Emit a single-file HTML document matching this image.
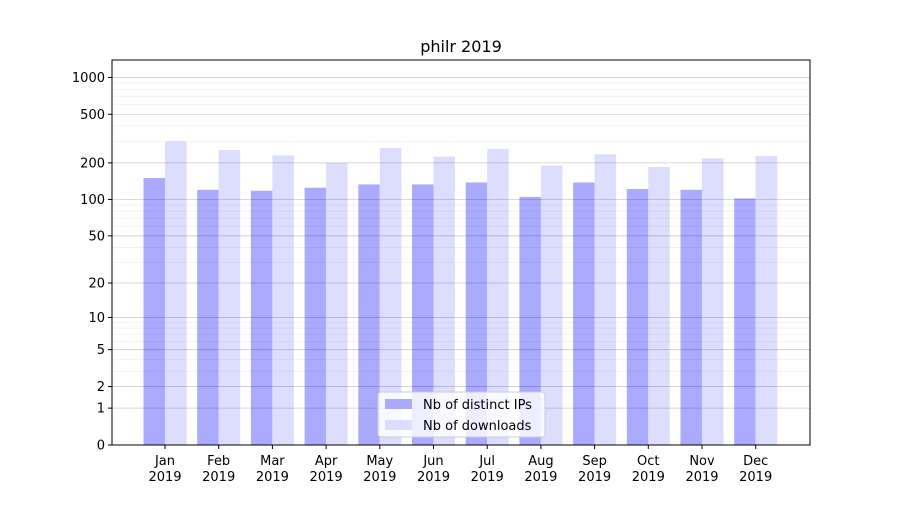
<!DOCTYPE html>
<html><head><meta charset="utf-8"><style>
body{margin:0;background:#fff;font-family:"Liberation Sans","DejaVu Sans",sans-serif;}
svg text{font-family:"DejaVu Sans","Liberation Sans",sans-serif;}
</style></head><body>
<svg id="c" width="900" height="500"></svg>
<script>
const months=["Jan","Feb","Mar","Apr","May","Jun","Jul","Aug","Sep","Oct","Nov","Dec"];
const ips=[150,120,118,125,133,133,138,105,138,122,120,102];
const downloads=[300,255,230,200,265,225,260,190,235,185,218,228];
const yTicks=[0,1,2,5,10,20,50,100,200,500,1000];
const minorTicks=[3,4,6,7,8,9,30,40,60,70,80,90,300,400,600,700,800,900];
const NS="http://www.w3.org/2000/svg";
const svg=document.getElementById('c');
const L=112,R=810,T=60,B=445;
const k=122.5;
function y(v){return B-Math.log10(v+1)*k;}
const step=53.7,x0=165;
function xc(i){return x0+i*step;}
function el(t,a,p){const e=document.createElementNS(NS,t);for(const q in a)e.setAttribute(q,a[q]);(p||svg).appendChild(e);return e;}
const bw=21.5;
months.forEach((m,i)=>{
 const b1=el('rect',{x:xc(i)-bw,y:y(ips[i]),width:bw,height:B-y(ips[i]),fill:'#aaaaff'});
 
 
 const b2=el('rect',{x:xc(i),y:y(downloads[i]),width:bw,height:B-y(downloads[i]),fill:'#ddddff'});
 
 
 const tk=el('line',{x1:xc(i),x2:xc(i),y1:B,y2:B+4,stroke:'#000'});
 
 
 const t=el('text',{x:xc(i),y:B+20,'text-anchor':'middle','font-size':13});
 
 
 const s1=el('tspan',{x:xc(i)},t);s1.textContent=m;
 const s2=el('tspan',{x:xc(i),dy:16},t);s2.textContent='2019';
});
minorTicks.forEach(v=>{const l=el('line',{x1:L,x2:R,y1:y(v),y2:y(v),stroke:'#000','stroke-opacity':0.06,'stroke-width':0.8});

});
yTicks.forEach(v=>{const l=el('line',{x1:L,x2:R,y1:y(v),y2:y(v),stroke:'#000','stroke-opacity':0.2,'stroke-width':0.8});


const tk=el('line',{x1:L-4,x2:L,y1:y(v),y2:y(v),stroke:'#000'});


const t=el('text',{x:L-7,y:y(v)+4.5,'text-anchor':'end','font-size':13});t.textContent=v;

});
const fr=el('rect',{x:L,y:T,width:R-L,height:B-T,fill:'none',stroke:'#000','stroke-width':1});


const ti=el('text',{x:(L+R)/2,y:52,'text-anchor':'middle','font-size':16});ti.textContent='philr 2019';


const lg=el('g',{});


el('rect',{x:378,y:392,width:167,height:45,rx:3,fill:'#fff','fill-opacity':0.8,stroke:'#cccccc'},lg);
el('rect',{x:385,y:399,width:27,height:10,fill:'#aaaaff'},lg);
el('rect',{x:385,y:420,width:27,height:10,fill:'#ddddff'},lg);
const t1=el('text',{x:423,y:409,'font-size':13},lg);t1.textContent='Nb of distinct IPs';
const t2=el('text',{x:423,y:430,'font-size':13},lg);t2.textContent='Nb of downloads';
</script>
</body></html>
